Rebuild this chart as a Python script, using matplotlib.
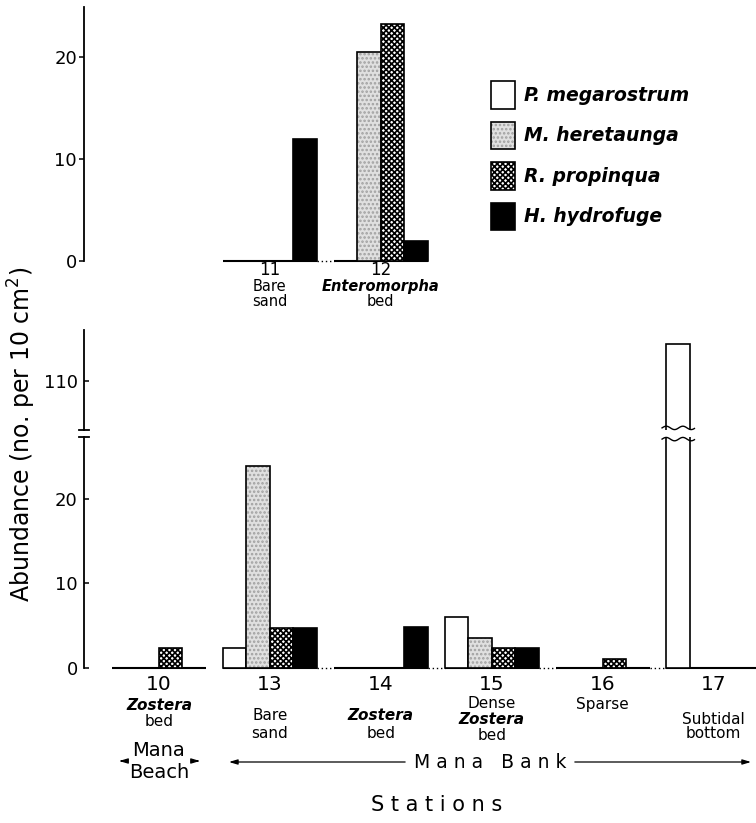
import numpy as np
import matplotlib
matplotlib.use("Agg")
import matplotlib.pyplot as plt
from matplotlib.patches import Patch
from matplotlib.legend_handler import HandlerTuple
from matplotlib.transforms import blended_transform_factory as btf

# ---------------- data ----------------
species = ["P. megarostrum", "M. heretaunga", "R. propinqua", "H. hydrofuge"]

top_stations = ["11", "12"]
top_desc = [["Bare", "sand"], ["Enteromorpha", "bed"]]
top_p = [0.0, 0.0]
top_m = [0.0, 20.5]
top_r = [0.0, 23.2]
top_h = [12.0, 2.0]

bottom_stations = ["10", "13", "14", "15", "16", "17"]
bottom_desc = [["Zostera", "bed"], ["Bare", "sand"], ["Zostera", "bed"],
               ["Dense", "Zostera", "bed"], ["Sparse"], ["Subtidal", "bottom"]]
bot_p = [0.0, 2.35, 0.0, 6.0, 0.0, 114.3]
bot_m = [0.0, 23.9, 0.0, 3.55, 0.0, 0.0]
bot_r = [2.3, 4.7, 0.0, 2.3, 1.05, 0.0]
bot_h = [0.0, 4.7, 4.8, 2.35, 0.0, 0.0]

italic_words = {"Zostera", "Enteromorpha"}
top_ticks = [0, 10, 20]
low_ticks = [0, 10, 20]
high_ticks = [110]

# ---------------- layout ----------------
W, H = 756, 823
plt.rcParams["font.family"] = ["DejaVu Sans"]
plt.rcParams["hatch.linewidth"] = 1.2
fig = plt.figure(figsize=(W / 100, H / 100), dpi=100)

def fy(py):
    return 1 - py / H

XL = (-0.676, 5.383)
bw = 0.212
top_pos = [1, 2]
bot_pos = [0, 1, 2, 3, 4, 5]

def make_ax(ptop, pbot):
    ax = fig.add_axes([84 / W, fy(pbot), 1 - 84 / W, (pbot - ptop) / H])
    ax.set_xlim(*XL)
    for s in ["top", "right", "bottom"]:
        ax.spines[s].set_visible(False)
    ax.spines["left"].set_linewidth(1.3)
    ax.set_xticks([])
    ax.patch.set_alpha(0)
    return ax

ax_top = make_ax(7, 265.1)
ax_top.set_ylim(-0.4, 24.9)
ax_top.spines["left"].set_bounds(0, 24.9)
ax_hi = make_ax(330, 430)
ax_hi.set_ylim(104.16, 116.0)
ax_lo = make_ax(437, 671.9)
ax_lo.set_ylim(-0.5, 27.33)
ax_lo.spines["left"].set_bounds(0, 27.33)

LIGHT = "#e0e0e0"
DOTC = "#a0a0a0"
RHATCH = "xxxxxx"

def draw_bars(ax, pos, series):
    pos = np.asarray(pos, dtype=float)
    for k, vals in enumerate(series):
        x = pos + (k - 1.5) * bw
        if k == 0:
            ax.bar(x, vals, bw, facecolor="white", edgecolor="black", linewidth=1.2, zorder=2)
        elif k == 1:
            ax.bar(x, vals, bw, facecolor=LIGHT, edgecolor=DOTC, hatch="....", linewidth=0, zorder=2)
            ax.bar(x, vals, bw, fill=False, edgecolor="black", linewidth=1.2, zorder=3)
        elif k == 2:
            ax.bar(x, vals, bw, facecolor="white", edgecolor="black", hatch=RHATCH, linewidth=1.2, zorder=2)
        else:
            ax.bar(x, vals, bw, facecolor="black", edgecolor="black", linewidth=1.2, zorder=2)

def baseline(ax, pos, links):
    for p in pos:
        ax.plot([p - 2 * bw, p + 2 * bw], [0, 0], color="black", lw=1.5,
                solid_capstyle="butt", clip_on=False, zorder=1)
    for a, b in links:
        ax.plot([pos[a] + 2 * bw, pos[b] - 2 * bw], [0, 0], color="black", lw=1.0,
                ls=(0, (1, 2)), clip_on=False, zorder=1)

draw_bars(ax_top, top_pos, [top_p, top_m, top_r, top_h])
baseline(ax_top, top_pos, [(0, 1)])
draw_bars(ax_lo, bot_pos, [bot_p, bot_m, bot_r, bot_h])
baseline(ax_lo, bot_pos, [(1, 2), (2, 3), (3, 4), (4, 5)])
draw_bars(ax_hi, bot_pos, [bot_p, bot_m, bot_r, bot_h])

# wavy break lines on the tall bar
ib = int(np.argmax(bot_p))
xl = bot_pos[ib] - 2 * bw - 0.04
xr = bot_pos[ib] - bw + 0.04
xs = np.linspace(xl, xr, 80)
wave = np.sin(2 * np.pi * (xs - xl) / 0.15)
ax_hi.plot(xs, ax_hi.get_ylim()[0] + 0.25 + 0.2 * wave, color="black", lw=1.0, clip_on=False, zorder=4)
ax_lo.plot(xs, ax_lo.get_ylim()[1] - 0.25 + 0.2 * wave, color="black", lw=1.0, clip_on=False, zorder=4)

# axis break caps
ax_hi.plot([-0.0075, 0.0075], [0, 0], transform=ax_hi.transAxes, color="black", lw=1.3, clip_on=False)
ax_lo.plot([-0.0075, 0.0075], [1, 1], transform=ax_lo.transAxes, color="black", lw=1.3, clip_on=False)

# ticks
ax_top.set_yticks(top_ticks)
ax_top.tick_params(axis="y", direction="out", length=3.6, width=1.1, pad=1.5, labelsize=13)
ax_lo.set_yticks(low_ticks)
ax_lo.tick_params(axis="y", direction="in", length=3.6, width=1.1, pad=4.5, labelsize=13)
ax_hi.set_yticks(high_ticks)
ax_hi.tick_params(axis="y", direction="in", length=3.6, width=1.1, pad=4.5, labelsize=13)

# station labels
def station_labels(ax, pos, names, descs, num_y, first_y, gaps, num_size, reg_size, it_size):
    tr = btf(ax.transData, fig.transFigure)
    for p, nm, d, fy0, g in zip(pos, names, descs, first_y, gaps):
        ax.text(p, fy(num_y), nm, transform=tr, ha="center", va="center", fontsize=num_size)
        for j, line in enumerate(d):
            it = line in italic_words
            ax.text(p, fy(fy0 + j * g), line, transform=tr, ha="center", va="center",
                    fontsize=it_size if it else reg_size,
                    fontweight="bold" if it else "normal",
                    fontstyle="oblique" if it else "normal")

station_labels(ax_top, top_pos, top_stations, top_desc, 270, [287, 287], [14, 14], 12, 10.5, 10.5)
station_labels(ax_lo, bot_pos, bottom_stations, bottom_desc, 685,
               [706, 715, 715, 704, 704, 719], [15, 18, 18, 16, 0, 15], 14.5, 11, 11)

# location annotations
tr = btf(ax_lo.transData, fig.transFigure)
g0 = bot_pos[0]
ax_lo.text(g0, fy(751), "Mana", transform=tr, ha="center", va="center", fontsize=14)
ax_lo.text(g0, fy(773), "Beach", transform=tr, ha="center", va="center", fontsize=14)
arrow_kw = dict(arrowstyle="-|>,head_length=0.5,head_width=0.15", color="black", lw=0.9)
ax_lo.annotate("", xy=(g0 - 2 * bw + 0.04, fy(761)), xytext=(g0 - 2 * bw + 0.12, fy(761)),
               xycoords=tr, textcoords=tr, arrowprops=arrow_kw)
ax_lo.annotate("", xy=(g0 + 2 * bw - 0.03, fy(761)), xytext=(g0 + 2 * bw - 0.11, fy(761)),
               xycoords=tr, textcoords=tr, arrowprops=arrow_kw)

bank_l = bot_pos[1] - 2 * bw + 0.03
bank_r = XL[1] - 0.02
bank_c = (bank_l + bank_r) / 2
ax_lo.text(bank_c, fy(763), "M a n a   B a n k", transform=tr, ha="center", va="center", fontsize=13.5)
ax_lo.annotate("", xy=(bank_l, fy(762)), xytext=(bank_c - 0.74, fy(762)),
               xycoords=tr, textcoords=tr, arrowprops=arrow_kw)
ax_lo.annotate("", xy=(bank_r, fy(762)), xytext=(bank_c + 0.74, fy(762)),
               xycoords=tr, textcoords=tr, arrowprops=arrow_kw)

stat_c = (bot_pos[0] + bot_pos[-1]) / 2
ax_lo.text(stat_c, fy(805), "S t a t i o n s", transform=tr, ha="center", va="center", fontsize=15)

# y label
fig.text(22 / W, fy(434), "Abundance (no. per 10 cm$^2$)", rotation=90,
         ha="center", va="center", fontsize=17)

# legend
h_p = Patch(facecolor="white", edgecolor="black", linewidth=1.2)
h_m = (Patch(facecolor=LIGHT, edgecolor=DOTC, hatch="....", linewidth=0),
       Patch(fill=False, edgecolor="black", linewidth=1.2))
h_r = Patch(facecolor="white", edgecolor="black", hatch=RHATCH, linewidth=1.2)
h_h = Patch(facecolor="black", edgecolor="black", linewidth=1.2)
fig.legend([h_p, h_m, h_r, h_h], species, loc="upper left",
           bbox_to_anchor=(491 / W, fy(81)), frameon=False,
           prop=dict(size=13.5, weight="bold", style="oblique"),
           handlelength=1.3, handleheight=1.9, labelspacing=0.68,
           handletextpad=0.45, borderpad=0, borderaxespad=0,
           handler_map={tuple: HandlerTuple(ndivide=1)})

fig.savefig("out.png", dpi=100)
